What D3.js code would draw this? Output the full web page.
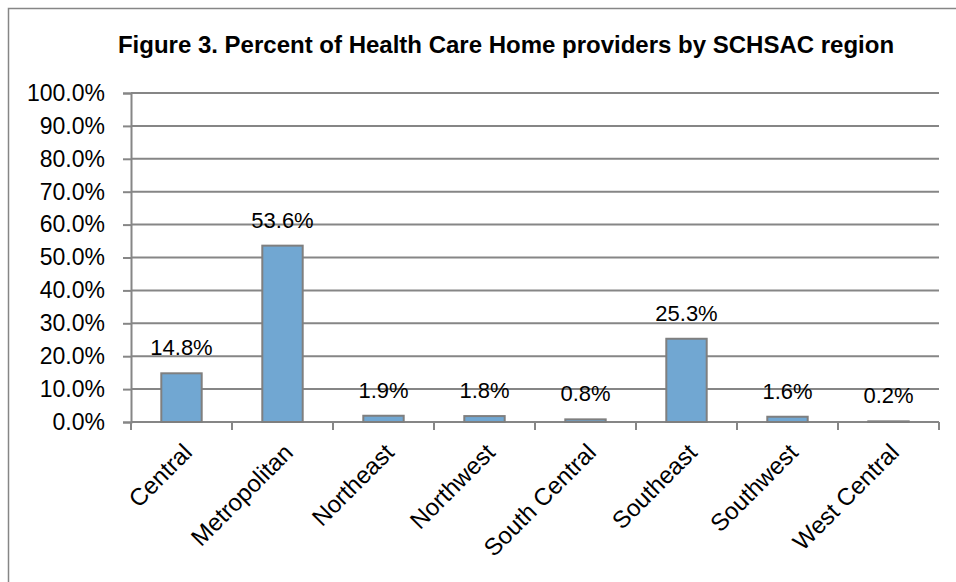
<!DOCTYPE html>
<html>
<head>
<meta charset="utf-8">
<script src="https://cdn.jsdelivr.net/npm/d3@7"></script>
<style>
  body { margin: 0; background: #fff; }
  text { font-family: "Liberation Sans", Arial, sans-serif; fill: #000; }
</style>
</head>
<body>
<svg></svg>
<script>
// chart values
var regions = ["Central", "Metropolitan", "Northeast", "Northwest", "South Central", "Southeast", "Southwest", "West Central"]
var percents = [14.8, 53.6, 1.9, 1.8, 0.8, 25.3, 1.6, 0.2]
var yTicks = [0, 10, 20, 30, 40, 50, 60, 70, 80, 90, 100]
var title = "Figure 3. Percent of Health Care Home providers by SCHSAC region"

var screen = { width: 956, height: 582 }
var margins = { left: 131, right: 17, top: 93, bottom: 160 }
var graph = {
    width: screen.width - margins.left - margins.right,
    height: screen.height - margins.top - margins.bottom
}

var svg = d3.select("svg")
    .attr("width", screen.width)
    .attr("height", screen.height)

// chart frame (cut off at the right and bottom)
svg.append("rect")
    .attr("x", 8.5)
    .attr("y", 8.5)
    .attr("width", 1000)
    .attr("height", 1000)
    .attr("fill", "none")
    .attr("stroke", "#868686")
    .attr("stroke-width", 1.5)

var xScale = d3.scaleBand()
    .domain(regions)
    .range([0, graph.width])
    .paddingInner(0.6)
    .paddingOuter(0.3)

var yScale = d3.scaleLinear()
    .domain([0, 100])
    .range([graph.height, 0])

var target = svg.append("g")
    .attr("transform", "translate(" + margins.left + "," + margins.top + ")")

// gridlines + y axis
var yAxis = d3.axisLeft(yScale)
    .tickValues(yTicks)
    .tickSize(8)
    .tickFormat(function (d) { return d.toFixed(1) + "%" })

var yG = target.append("g").call(yAxis)
yG.select(".domain").attr("stroke", "#868686").attr("stroke-width", 2)
yG.selectAll(".tick line").attr("stroke", "#868686").attr("stroke-width", 2)
yG.selectAll(".tick text")
    .attr("x", -26)
    .style("font-size", "23px")

target.append("g")
    .selectAll("line")
    .data(yTicks.slice(1))
    .enter()
    .append("line")
    .attr("x1", 0)
    .attr("x2", graph.width)
    .attr("y1", function (d) { return yScale(d) })
    .attr("y2", function (d) { return yScale(d) })
    .attr("stroke", "#868686")
    .attr("stroke-width", 2)

// x axis with ticks between categories
var step = graph.width / regions.length
var xG = target.append("g")
    .attr("transform", "translate(0," + graph.height + ")")
xG.append("line")
    .attr("x1", 0).attr("x2", graph.width)
    .attr("stroke", "#868686").attr("stroke-width", 2)
xG.selectAll(".sep")
    .data(d3.range(regions.length + 1))
    .enter()
    .append("line")
    .attr("x1", function (i) { return i * step })
    .attr("x2", function (i) { return i * step })
    .attr("y1", 0)
    .attr("y2", 8)
    .attr("stroke", "#868686")
    .attr("stroke-width", 2)

xG.selectAll(".lbl")
    .data(regions)
    .enter()
    .append("text")
    .attr("text-anchor", "end")
    .style("font-size", "24px")
    .attr("transform", function (d) {
        var x = xScale(d) + xScale.bandwidth() / 2 + 12
        return "translate(" + x + ",32) rotate(-45)"
    })
    .text(function (d) { return d })

// bars
target.selectAll(".bar")
    .data(percents)
    .enter()
    .append("rect")
    .attr("x", function (d, i) { return xScale(regions[i]) })
    .attr("y", function (d) { return yScale(d) })
    .attr("width", xScale.bandwidth())
    .attr("height", function (d) { return graph.height - yScale(d) })
    .attr("fill", "#71a7d2")
    .attr("stroke", "#7f7f7f")
    .attr("stroke-width", 2)

// value labels
target.selectAll(".val")
    .data(percents)
    .enter()
    .append("text")
    .attr("text-anchor", "middle")
    .style("font-size", "22px")
    .attr("x", function (d, i) { return xScale(regions[i]) + xScale.bandwidth() / 2 })
    .attr("y", function (d) { return yScale(d) - 18 })
    .text(function (d) { return d.toFixed(1) + "%" })

// title
svg.append("text")
    .attr("x", 506)
    .attr("y", 53)
    .attr("text-anchor", "middle")
    .style("font-size", "24px")
    .style("font-weight", "bold")
    .text(title)
</script>
</body>
</html>
